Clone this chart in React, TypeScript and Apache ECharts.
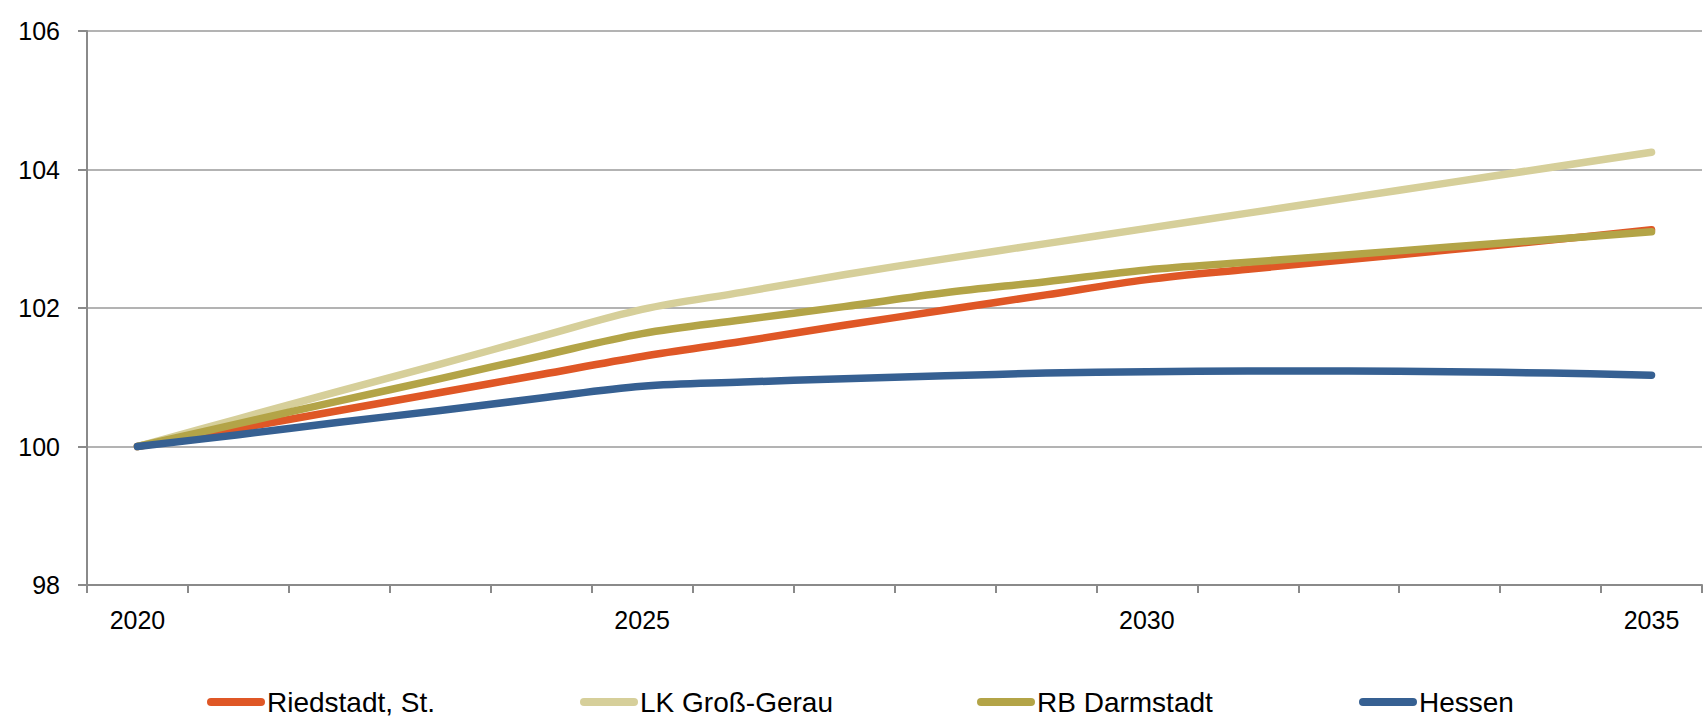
import React, { useEffect, useRef } from "react";
import * as echarts from "echarts";

const years = ["2020","2021","2022","2023","2024","2025","2026","2027","2028","2029","2030","2031","2032","2033","2034","2035"];
const riedstadt = [100, 100.26, 100.52, 100.78, 101.04, 101.30, 101.52, 101.75, 101.97, 102.19, 102.41, 102.56, 102.70, 102.84, 102.98, 103.13];
const grossGerau = [100, 100.40, 100.80, 101.19, 101.59, 101.98, 102.23, 102.48, 102.71, 102.93, 103.15, 103.37, 103.59, 103.81, 104.03, 104.25];
const darmstadt = [100, 100.33, 100.66, 100.98, 101.31, 101.63, 101.83, 102.02, 102.22, 102.38, 102.55, 102.66, 102.77, 102.88, 102.99, 103.10];
const hessen = [100, 100.17, 100.35, 100.52, 100.70, 100.87, 100.93, 100.98, 101.02, 101.06, 101.08, 101.09, 101.09, 101.08, 101.06, 101.03];

const seriesNames = ["Riedstadt, St.", "LK Groß-Gerau", "RB Darmstadt", "Hessen"];
const seriesData = [riedstadt, grossGerau, darmstadt, hessen];
const colors = ["#DF5726", "#D6CF9A", "#B3A447", "#366092"];
const legendLefts = [207, 580, 977, 1359];

const FONT = "'Liberation Sans', Arial, sans-serif";
const ICON = "path://M4,0 L54,0 A4,4 0 0 1 54,8 L4,8 A4,4 0 0 1 4,0 Z";

export default function App() {
  const ref = useRef<HTMLDivElement>(null);
  useEffect(() => {
    document.body.style.margin = "0";
    const chart = echarts.init(ref.current!, null, { renderer: "svg" });
    chart.setOption({
      animation: false,
      backgroundColor: "#ffffff",
      grid: { left: 87, right: 1, top: 31, bottom: 133 },
      legend: seriesNames.map((n, i) => ({
        data: [n],
        left: legendLefts[i],
        top: 688,
        icon: ICON,
        itemWidth: 58,
        itemHeight: 8,
        selectedMode: false,
        padding: 0,
        textStyle: {
          fontFamily: FONT,
          fontSize: 28,
          color: "#000",
          padding: [0, 0, 0, -3],
          lineHeight: 28,
        },
      })),
      xAxis: {
        type: "category",
        data: years,
        boundaryGap: true,
        axisLine: { lineStyle: { color: "#8a8a8a", width: 2 } },
        axisTick: { show: true, length: 8, interval: 0, lineStyle: { color: "#8a8a8a", width: 2 } },
        axisLabel: { interval: 4, margin: 22, fontFamily: FONT, fontSize: 25, color: "#000" },
        splitLine: { show: false },
      },
      yAxis: {
        type: "value",
        min: 98,
        max: 106,
        interval: 2,
        axisLine: { show: true, lineStyle: { color: "#8a8a8a", width: 2 } },
        axisTick: { show: true, length: 9, lineStyle: { color: "#8a8a8a", width: 2 } },
        axisLabel: { margin: 27, fontFamily: FONT, fontSize: 25, color: "#000" },
        splitLine: { show: true, lineStyle: { color: "#9a9a9a", width: 1.5 } },
      },
      series: seriesNames.map((n, i) => ({
        name: n,
        type: "line",
        data: seriesData[i],
        smooth: 0.35,
        showSymbol: false,
        symbol: "none",
        color: colors[i],
        lineStyle: { color: colors[i], width: 7.5, cap: "round", join: "round" },
      })),
    });
    return () => chart.dispose();
  }, []);
  return <div ref={ref} style={{ position: "fixed", left: 0, top: 0, width: 1703, height: 718 }} />;
}
